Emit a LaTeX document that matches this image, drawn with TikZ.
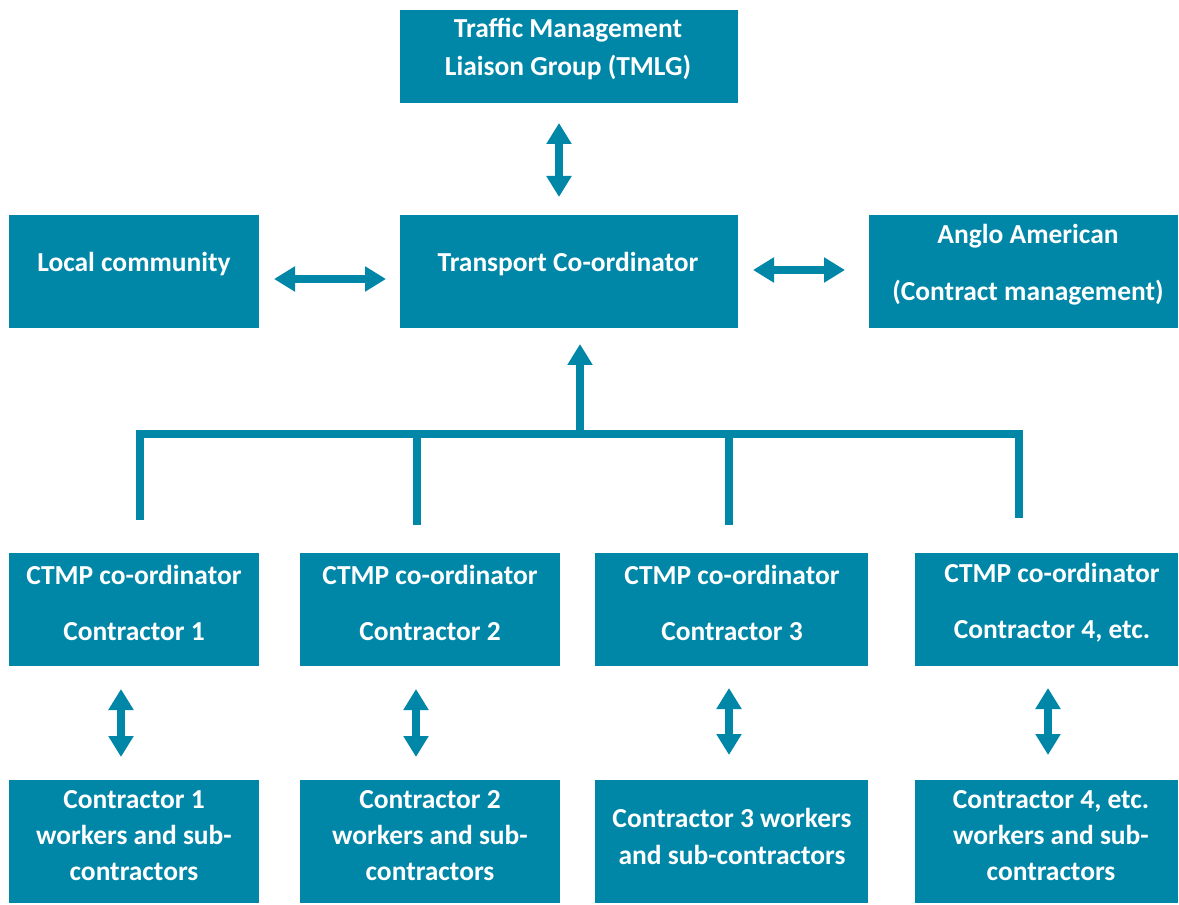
\documentclass[tikz,border=0pt]{standalone}
\usepackage{fontspec}
\setmainfont{Carlito}
\usetikzlibrary{arrows.meta}
\definecolor{tl}{RGB}{0,135,168}
\newcommand\mybox[5]{\node[box,minimum width={(#4-#2)*0.75pt},minimum height={(#5-#3)*0.75pt}] (#1) at ({(#2+#4)/2},{(#3+#5)/2}) {};}
\newcommand\fs[1]{\bfseries\fontsize{20.6}{#1}\selectfont}
\begin{document}
\begin{tikzpicture}[x=0.75pt,y=-0.75pt,
 box/.style={fill=tl,draw=none,inner sep=0,outer sep=0},
 txt/.style={text=white,font=\fs{24},align=center,inner sep=0},
 link/.style={draw=tl,line width=6pt,-{Triangle[width=18pt,length=15.75pt]}},
 dlink/.style={draw=tl,line width=6pt,{Triangle[width=18pt,length=15.75pt]}-{Triangle[width=18pt,length=15.75pt]}},
 bar/.style={draw=tl,line width=6pt,line join=miter}]
\useasboundingbox (0,0) rectangle (1179,905);
% boxes
\mybox{tmlg}{400}{10}{738}{103}
\mybox{local}{9}{215}{259}{328}
\mybox{tc}{400}{215}{738}{328}
\mybox{anglo}{869}{215}{1178}{328}
\mybox{c1}{9}{553}{259}{666}
\mybox{c2}{300}{553}{560}{666}
\mybox{c3}{595}{553}{868}{666}
\mybox{c4}{915}{553}{1178}{666}
\mybox{w1}{9}{780}{259}{903}
\mybox{w2}{300}{780}{560}{903}
\mybox{w3}{595}{780}{868}{903}
\mybox{w4}{915}{780}{1178}{903}
% texts
\node[txt,font=\fs{28.5}] (tmlgT) at (568,49) {Traffic Management\\Liaison Group (TMLG)};
\node[txt] (localT) at (134,264) {Local community};
\node[txt] (tcT) at (568,264) {Transport Co-ordinator};
\node[txt,font=\fs{42.75}] (angloT) at (1028,264.5) {Anglo American\\(Contract management)};
\node[txt,font=\fs{42}] (c1T) at (134,603) {CTMP co-ordinator\\Contractor 1};
\node[txt,font=\fs{42}] (c2T) at (430,603) {CTMP co-ordinator\\Contractor 2};
\node[txt,font=\fs{42}] (c3T) at (732,603) {CTMP co-ordinator\\Contractor 3};
\node[txt,font=\fs{42}] (c4T) at (1052,603) {CTMP co-ordinator\\Contractor 4, etc.};
\node[txt,font=\fs{27}] (w1T) at (134,836) {Contractor 1\\workers and sub-\\contractors};
\node[txt,font=\fs{27}] (w2T) at (430,836) {Contractor 2\\workers and sub-\\contractors};
\node[txt,font=\fs{27.75}] (w3T) at (732,836.5) {Contractor 3 workers\\and sub-contractors};
\node[txt,font=\fs{27}] (w4T) at (1051,836) {Contractor 4, etc.\\workers and sub-\\contractors};
% arrow end points
\coordinate (a1) at (559,123); \coordinate (a2) at (559,197);
\coordinate (b1) at (274,279); \coordinate (b2) at (386,279);
\coordinate (d1) at (753,270); \coordinate (d2) at (845,270);
\coordinate (up1) at (580,434); \coordinate (up2) at (580,344);
\coordinate (k1) at (140,520); \coordinate (k2) at (140,434);
\coordinate (k3) at (1019,434); \coordinate (k4) at (1019,518);
\coordinate (m1) at (417,434); \coordinate (m2) at (417,525);
\coordinate (n1) at (729,434); \coordinate (n2) at (729,525);
\coordinate (s1a) at (121,689); \coordinate (s1b) at (121,757);
\coordinate (s2a) at (416,689); \coordinate (s2b) at (416,757);
\coordinate (s3a) at (729,688); \coordinate (s3b) at (729,755);
\coordinate (s4a) at (1048,688); \coordinate (s4b) at (1048,755);
% connectors
\draw[dlink] (a1) -- (a2);
\draw[dlink] (b1) -- (b2);
\draw[dlink] (d1) -- (d2);
\draw[link] (up1) -- (up2);
\draw[bar] (k1) -- (k2) -- (k3) -- (k4);
\draw[bar] (m1) -- (m2);
\draw[bar] (n1) -- (n2);
\draw[dlink] (s1a) -- (s1b);
\draw[dlink] (s2a) -- (s2b);
\draw[dlink] (s3a) -- (s3b);
\draw[dlink] (s4a) -- (s4b);
\end{tikzpicture}
\end{document}
